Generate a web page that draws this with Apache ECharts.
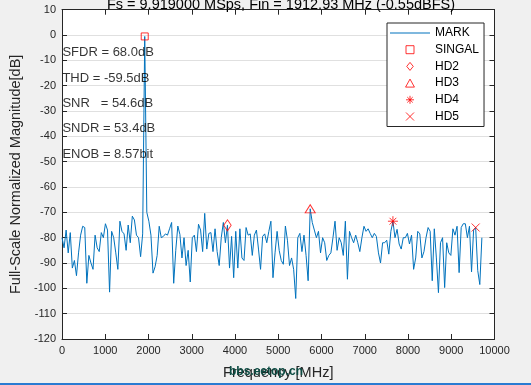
<!DOCTYPE html>
<html><head><meta charset="utf-8">
<script src="https://cdn.jsdelivr.net/npm/echarts@6/dist/echarts.min.js"></script>
<style>html,body{margin:0;padding:0;background:#f0f0f0;overflow:hidden}#c{width:531px;height:385px}</style>
</head><body><div id="c"></div>
<script>
// ---- data ----
const titleText = 'Fs = 9.919000 MSps, Fin = 1912.93 MHz (-0.55dBFS)';
const binMHz = 1912.93 / 40;            // FFT bin width (MHz)
const magnitudeDb = [
 -80,-84,-77,-86,-78,-92,-89,-95,-86,-79,
 -75.5,-76,-98,-87,-90,-92.5,-79,-84,-85.5,-78,
 -80,-74.5,-77,-101.5,-77.5,-80,-86,-92.5,-73.5,-77.5,
 -78.5,-85,-75,-82,-71.5,-73,-79,-80,-87.5,-78.5,
 -0.55,-70,-73.5,-79,-94,-91.5,-87,-75.5,-80,-79.5,
 -78.5,-79,-76.5,-74,-98,-85,-75.4,-78.7,-88,-80,
 -91,-85,-97.5,-80,-79,-85.5,-74.7,-77,-85.5,-70.4,
 -84.5,-78.3,-78,-85.5,-76.5,-85.5,-91,-80,-74,-82,
 -75.1,-92,-79.5,-95.8,-77.5,-92,-76.5,-88,-89,-76,
 -79,-78.5,-87,-79,-77,-84.5,-92.5,-79.5,-78.5,-82,
 -77.5,-73.5,-95.8,-86,-77.5,-85,-89,-90.5,-75.4,-81,
 -91,-88,-92.5,-104,-80,-78.3,-85.5,-79,-87,-97,
 -68.6,-74,-77,-80,-77.5,-86,-80,-82,-89,-87,
 -86,-80,-73.5,-85,-80,-82,-87,-73.5,-96.4,-77.5,
 -80,-82,-79,-82,-85.5,-80,-75.5,-77.5,-76.5,-78.3,
 -80,-78.3,-79.5,-86,-90,-82,-82,-81,-86.5,-77.5,
 -73.5,-80,-76.7,-82.5,-84.5,-80,-80,-78.3,-82.5,-79,
 -92.5,-88,-77.5,-78.5,-88,-85.5,-80,-76,-77.5,-97,
 -76.5,-88,-101.7,-82,-80,-99.7,-82,-86,-87,-76.5,
 -79,-75.5,-93.8,-76,-74.5,-74.5,-80,-75.5,-93.5,-77,
 -76,-93,-98.5,-80
];
const harmonicNames = ['SINGAL', 'HD2', 'HD3', 'HD4', 'HD5'];
const harmonicBins  = [40, 80, 120, 160, 200];
const xMin = 0, xMax = 10000, xStep = 1000;
const yMin = -120, yMax = 10, yStep = 10;
const annotationTexts = ['SFDR = 68.0dB', 'THD = -59.5dB', 'SNR   = 54.6dB', 'SNDR = 53.4dB', 'ENOB = 8.57bit'];
const annotationDb    = [-7, -17, -27, -37, -47];
const annotationMHz   = 10;

// ---- styling ----
const FONT = '"Liberation Sans", Arial, Helvetica, sans-serif';
const AX = '#262626';
const RED = '#ff0000';
const SQUARE = 'path://M0,0L10,0L10,10L0,10Z';
const DIAMOND = 'path://M4.5,0L9,5.5L4.5,11L0,5.5Z';
const TRIANGLE = 'path://M5,0L10,9L0,9Z';
const ASTERISK = 'path://M5,0L5,10M0,5L10,5M1.6,1.6L8.4,8.4M8.4,1.6L1.6,8.4';
const XMARK = 'path://M0,0L10,10M10,0L0,10';
const LINEICON = 'path://M0,0L40,0L40,1L0,1Z';
const markerLook = {
  SINGAL: { symbol: SQUARE, size: [7, 7] },
  HD2: { symbol: DIAMOND, size: [9, 11] },
  HD3: { symbol: TRIANGLE, size: [10, 9] },
  HD4: { symbol: ASTERISK, size: [10, 10] },
  HD5: { symbol: XMARK, size: [8, 8] }
};

const freqs = magnitudeDb.map((_, i) => i * binMHz);
const trace = magnitudeDb.map((v, i) => [freqs[i], v]);

const series = [{
  name: 'MARK', type: 'line', data: trace, symbol: 'none',
  lineStyle: { color: '#0072BD', width: 1 }, itemStyle: { color: '#0072BD' },
  z: 2, silent: true
}];
harmonicNames.forEach((n, k) => {
  const b = harmonicBins[k];
  series.push({
    name: n, type: 'scatter', data: [[freqs[b], magnitudeDb[b]]],
    symbol: markerLook[n].symbol, symbolSize: markerLook[n].size, symbolKeepAspect: true,
    itemStyle: { color: 'rgba(255,255,255,0)', borderColor: RED, borderWidth: 1 },
    z: 5, silent: true
  });
});
series.push({
  name: 'notes', type: 'scatter', symbolSize: 0, silent: true, z: 6,
  data: annotationTexts.map((t, k) => ({ value: [annotationMHz, annotationDb[k]], label: { formatter: t } })),
  label: { show: true, position: 'right', distance: 0, color: '#000', fontSize: 13, fontFamily: FONT }
});

const baseAxis = {
  type: 'value',
  axisLine: { show: true, onZero: false, lineStyle: { color: AX, width: 1 } },
  axisTick: { show: true, inside: true, length: 5, lineStyle: { color: AX, width: 1 } },
  splitLine: { show: false }
};

const legendData = [{ name: 'MARK', icon: LINEICON }].concat(
  harmonicNames.map(n => ({ name: n, icon: markerLook[n].symbol })));

const option = {
  animation: false,
  backgroundColor: '#f0f0f0',
  title: {
    text: titleText, left: 276, top: -8, textAlign: 'center',
    textStyle: { fontSize: 14.5, fontWeight: 'normal', color: '#000', fontFamily: FONT }
  },
  grid: { left: 61, right: 36.5, top: 9.7, bottom: 46, show: true, backgroundColor: '#ffffff', borderWidth: 0 },
  legend: {
    data: legendData, orient: 'vertical', left: 387, top: 23,
    itemWidth: 40, itemHeight: 8, itemGap: 2.7, padding: [3, 5, 3, 3],
    symbolKeepAspect: true,
    itemStyle: { borderWidth: 1 },
    backgroundColor: '#ffffff', borderColor: AX, borderWidth: 1, borderRadius: 0,
    selectedMode: false,
    textStyle: { fontSize: 12, fontFamily: FONT, color: '#000', lineHeight: 14 }
  },
  xAxis: [
    Object.assign({}, baseAxis, {
      position: 'bottom', min: xMin, max: xMax, interval: xStep,
      axisLabel: { color: AX, fontSize: 11, fontFamily: FONT, margin: 6, formatter: v => String(v) },
      name: 'Frequency [MHz]', nameLocation: 'middle', nameGap: 26,
      nameTextStyle: { color: AX, fontSize: 14.5, fontFamily: FONT }
    }),
    Object.assign({}, baseAxis, {
      position: 'top', min: xMin, max: xMax, interval: xStep, axisLabel: { show: false }
    })
  ],
  yAxis: [
    Object.assign({}, baseAxis, {
      position: 'left', min: yMin, max: yMax, interval: yStep,
      axisLabel: { color: AX, fontSize: 11, fontFamily: FONT, margin: 6, formatter: v => String(v) },
      splitLine: { show: true, lineStyle: { color: '#e0e0e0', width: 1 } },
      name: 'Full-Scale Normalized Magnitude[dB]', nameLocation: 'middle', nameGap: 39,
      nameTextStyle: { color: AX, fontSize: 14.5, fontFamily: FONT }
    }),
    Object.assign({}, baseAxis, {
      position: 'right', min: yMin, max: yMax, interval: yStep, axisLabel: { show: false }
    })
  ],
  graphic: [
    { type: 'text', left: 229, top: 366, z: 100,
      style: { text: 'bbs.eetop.cn', font: 'bold 12px ' + FONT, fill: '#0e4d44' } },
    { type: 'rect', left: 0, top: 383, z: 100,
      shape: { width: 531, height: 2 }, style: { fill: '#2a7bd2' } }
  ],
  series: series
};

const chart = echarts.init(document.getElementById('c'), null, { renderer: 'canvas' });
chart.setOption(option);
</script></body></html>
